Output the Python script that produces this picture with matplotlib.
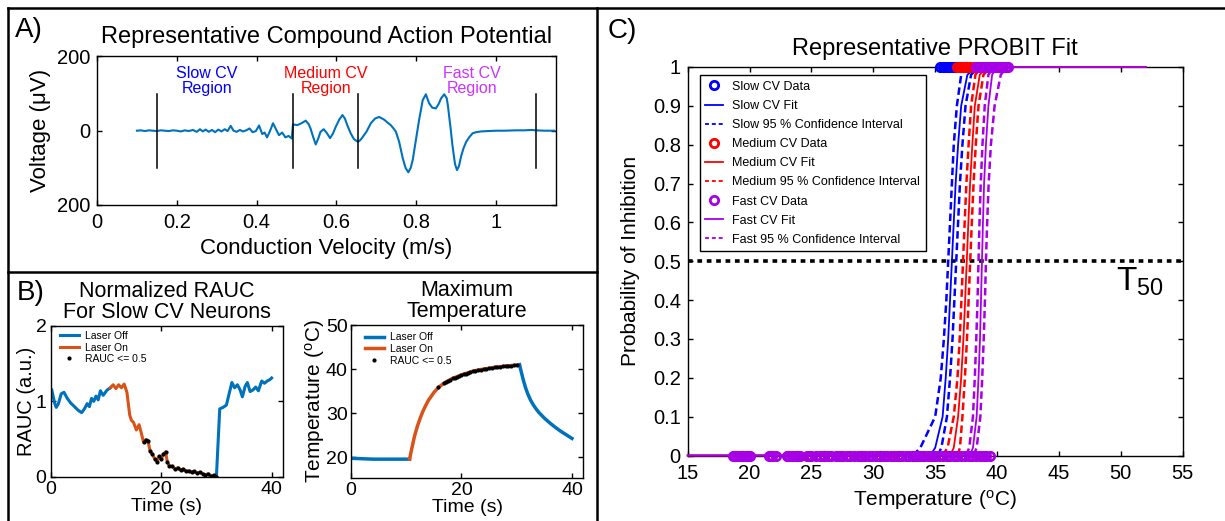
import matplotlib
matplotlib.use('Agg')
import matplotlib.pyplot as plt
from matplotlib.lines import Line2D

plt.rcParams['font.family'] = 'Liberation Sans'
plt.rcParams['mathtext.fontset'] = 'custom'
plt.rcParams['mathtext.rm'] = 'Liberation Sans'
plt.rcParams['mathtext.it'] = 'Liberation Sans:italic'
plt.rcParams['mathtext.default'] = 'regular'

MBLUE = '#0072BD'
MORANGE = '#D95319'
PURPLE = '#A800E6'

# ---- A) compound action potential
cv_x = [0.100, 0.110, 0.120, 0.130, 0.140, 0.150, 0.160, 0.170, 0.180, 0.190,
        0.200, 0.210, 0.220, 0.230, 0.240, 0.250, 0.258, 0.265, 0.272, 0.280,
        0.288, 0.296, 0.304, 0.312, 0.320, 0.327, 0.335, 0.342, 0.350, 0.358,
        0.366, 0.374, 0.382, 0.390, 0.398, 0.406, 0.414, 0.420, 0.426, 0.433,
        0.441, 0.448, 0.456, 0.464, 0.472, 0.480, 0.488, 0.491, 0.502, 0.512,
        0.523, 0.530, 0.535, 0.541, 0.548, 0.554, 0.560, 0.568, 0.575, 0.584,
        0.591, 0.598, 0.607, 0.615, 0.621, 0.627, 0.636, 0.644, 0.654, 0.660,
        0.665, 0.675, 0.686, 0.697, 0.707, 0.719, 0.728, 0.736, 0.743, 0.749,
        0.757, 0.766, 0.773, 0.780, 0.786, 0.791, 0.799, 0.807, 0.816, 0.824,
        0.832, 0.840, 0.849, 0.856, 0.862, 0.870, 0.876, 0.879, 0.885, 0.891,
        0.897, 0.902, 0.907, 0.912, 0.918, 0.925, 0.933, 0.941, 0.950, 0.962,
        0.980, 1.000, 1.020, 1.050, 1.070, 1.088, 1.100, 1.120, 1.146]
cv_v = [0, 1, -1, 1, 0, -1, 1, 0, -1, 1,
        0, -2, 1, -1, 2, -3, 4, -2, 3, -3,
        2, -4, 3, -2, 4, -1, 13, 0, -3, 2,
        -2, 1, 6, -4, -1, 14, -9, -5, -18, -2,
        20, 5, -12, -5, -18, -14, -21, 17, 15, 20,
        27, 18, 6, -15, -37, -22, -3, 4, -5, -20,
        -8, 10, 30, 42, 33, 15, -8, -23, -30, -25,
        -18, -3, 20, 33, 37, 30, 22, 15, 6, -3,
        -30, -74, -100, -112, -100, -79, -25, 29, 82, 98,
        74, 62, 60, 72, 87, 98, 88, 69, 15, -43,
        -90, -106, -95, -70, -48, -30, -17, -7, -4, -2,
        -1, 0, 0, 1, 1, 2, 1, 0, 0]
region_bounds = [0.15, 0.49, 0.655, 1.1]
region_names = ['Slow CV\nRegion', 'Medium CV\nRegion', 'Fast CV\nRegion']
region_text_x = [0.276, 0.574, 0.939]
region_colors = ['#0000FF', '#FF0000', '#CC33FF']

# ---- B) normalized RAUC
rauc_pre_t = [0.2, 0.7, 1.0, 1.4, 1.9, 2.4, 3.0, 3.6, 4.3, 5.0, 5.6, 6.1, 6.6,
              7.0, 7.4, 7.8, 8.2, 8.6, 9.0, 9.5, 10.2, 10.8]
rauc_pre = [1.15, 0.98, 0.92, 0.97, 1.10, 1.12, 1.04, 0.98, 0.93, 0.88, 0.85,
            0.90, 0.97, 0.93, 1.04, 1.00, 1.07, 1.02, 1.14, 1.08, 1.15, 1.18]
rauc_on_t = [10.8, 11.3, 11.8, 12.3, 12.8, 13.3, 13.8, 14.3, 14.6, 15.0, 15.5,
             16.0, 16.4, 16.8, 17.2, 17.6, 18.0, 18.4, 18.8, 19.2, 19.6, 20.0,
             20.4, 20.8, 21.1, 21.5, 22.0, 22.5, 23.0, 23.5, 24.0, 24.5, 25.0,
             25.5, 26.0, 26.5, 27.0, 27.5, 28.0, 28.5, 29.0, 29.5, 30.0]
rauc_on = [1.18, 1.22, 1.17, 1.22, 1.18, 1.23, 1.12, 0.82, 0.75, 0.72, 0.62,
           0.69, 0.58, 0.46, 0.49, 0.48, 0.34, 0.30, 0.24, 0.20, 0.27, 0.23,
           0.30, 0.33, 0.20, 0.14, 0.14, 0.10, 0.12, 0.09, 0.10, 0.07, 0.08,
           0.06, 0.07, 0.05, 0.06, 0.04, 0.02, 0.04, 0.01, 0.02, 0.00]
rauc_post_t = [30.0, 30.6, 31.2, 31.8, 32.3, 32.8, 33.3, 33.8, 34.3, 34.7, 35.2,
               35.6, 36.1, 36.6, 37.1, 37.6, 38.2, 38.7, 39.2, 39.7, 40.0]
rauc_post = [0.00, 0.90, 0.92, 0.95, 1.10, 1.25, 1.18, 1.22, 1.15, 1.06, 1.20,
             1.25, 1.13, 1.15, 1.19, 1.14, 1.27, 1.24, 1.27, 1.29, 1.31]
rauc_limit = 0.5

# ---- B) maximum temperature
temp_pre_t = [0, 2, 4, 6, 8, 10, 10.6]
temp_pre = [19.8, 19.7, 19.6, 19.6, 19.6, 19.6, 19.6]
temp_on_t = [10.6, 11.0, 11.5, 12.0, 12.5, 13.0, 13.5, 14.0, 14.5, 15.0, 15.5,
             16.0, 16.8, 17.6, 18.4, 19.2, 20.0, 21.0, 22.0, 23.0, 24.0, 25.0,
             26.0, 27.0, 28.0, 29.0, 30.0, 30.5]
temp_on = [19.6, 22.0, 24.8, 27.0, 28.8, 30.4, 31.7, 32.9, 33.8, 34.7, 35.4,
           36.0, 36.8, 37.4, 37.9, 38.3, 38.7, 39.1, 39.5, 39.8, 40.0, 40.2,
           40.4, 40.55, 40.7, 40.8, 40.9, 41.0]
temp_post_t = [30.5, 30.8, 31.2, 31.6, 32.0, 32.5, 33.0, 33.5, 34.0, 35.0, 36.0,
               37.0, 38.0, 39.0, 40.0]
temp_post = [41.0, 39.5, 37.5, 35.8, 34.4, 33.0, 31.9, 31.0, 30.2, 28.9, 27.8,
             26.8, 25.9, 25.1, 24.3]
temp_dot_t = [15.8, 16.8, 17.2, 17.6, 18.0, 18.4, 18.8, 19.2, 19.6, 20.0, 20.4,
              20.8, 21.1, 21.5, 22.0, 22.5, 23.0, 23.5, 24.0, 24.5, 25.0, 25.5,
              26.0, 26.5, 27.0, 27.5, 28.0, 28.5, 29.0, 29.5, 30.0]
temp_dot = [35.9, 36.8, 37.1, 37.4, 37.6, 37.9, 38.1, 38.3, 38.5, 38.7, 38.9,
            39.0, 39.1, 39.3, 39.5, 39.6, 39.8, 39.9, 40.0, 40.1, 40.2, 40.3,
            40.4, 40.5, 40.55, 40.6, 40.7, 40.75, 40.8, 40.85, 40.9]

# ---- C) probit fits, temperatures read at these probability levels
probit_levels = [0, 0.02, 0.1, 0.2, 0.3, 0.4, 0.5, 0.6, 0.7, 0.8, 0.9, 0.98, 1]
fit_range = [15, 52]
slow_fit = [34.6, 35.0, 35.6, 35.85, 36.05, 36.2, 36.35, 36.5, 36.65, 36.85, 37.1, 37.6, 38.3]
slow_lo = [33.2, 33.8, 35.0, 35.45, 35.7, 35.9, 36.05, 36.2, 36.35, 36.5, 36.75, 37.1, 37.6]
slow_hi = [35.2, 35.5, 35.95, 36.2, 36.4, 36.55, 36.7, 36.85, 37.0, 37.2, 37.45, 37.9, 38.5]
med_fit = [36.2, 36.5, 36.85, 37.1, 37.28, 37.42, 37.55, 37.68, 37.82, 38.0, 38.2, 38.6, 39.2]
med_lo = [35.6, 36.0, 36.5, 36.8, 36.98, 37.12, 37.25, 37.38, 37.52, 37.7, 37.9, 38.25, 38.7]
med_hi = [36.8, 37.0, 37.2, 37.4, 37.57, 37.7, 37.83, 37.96, 38.1, 38.28, 38.5, 38.9, 39.5]
fast_fit = [37.8, 38.05, 38.35, 38.5, 38.62, 38.7, 38.78, 38.86, 38.95, 39.1, 39.3, 39.6, 40.0]
fast_lo = [37.5, 37.75, 38.05, 38.2, 38.32, 38.42, 38.5, 38.58, 38.68, 38.82, 39.0, 39.3, 39.7]
fast_hi = [38.1, 38.35, 38.65, 38.8, 38.92, 39.02, 39.1, 39.2, 39.32, 39.5, 39.8, 40.3, 40.8]

slow_zero = [18.8, 19.4, 19.9, 21.7, 23.1, 23.8, 24.8, 26.0, 27.5, 29.0, 30.5, 32.0, 33.2, 34.0, 34.8]
slow_one = [35.4, 35.6, 35.8, 36.0, 36.2, 36.4, 36.6, 37.0]
med_zero = [18.8, 19.4, 19.9, 21.7, 23.1, 23.8, 24.8, 26.0, 27.5, 29.0, 30.5, 32.0, 33.5, 35.0, 36.0]
med_one = [36.8, 37.0, 37.2, 37.4, 37.6, 37.8, 38.1]
fast_zero = [18.7, 18.9, 19.1, 19.3, 19.5, 19.7, 19.8, 20.0, 21.6, 21.85, 22.1,
             23.0, 23.2, 23.4, 23.65, 23.9, 24.1, 24.6, 25.0, 25.4, 25.7, 26.05,
             26.3, 26.6, 26.95, 27.2, 27.5, 27.85, 28.1, 28.4, 28.75, 29.0, 29.3,
             29.65, 29.9, 30.2, 30.5, 30.85, 31.1, 31.4, 31.7, 32.05, 32.3, 32.6,
             32.9, 33.25, 33.5, 33.8, 34.1, 34.45, 34.7, 35.0, 35.3, 35.6, 35.95,
             36.2, 36.5, 36.8, 37.1, 37.4, 37.7, 38.0, 38.3, 38.6, 38.9, 39.1, 39.4]
fast_one = [38.3, 38.5, 38.7, 38.9, 39.1, 39.3, 39.5, 39.7, 39.9, 40.1, 40.3, 40.5, 40.7, 40.9]
t50_level = 0.5


def matlab_box(ax, size=14.5, xpad=6, ypad=5):
    for s in ax.spines.values():
        s.set_linewidth(1.0)
    ax.tick_params(direction='in', top=True, right=True, length=3.5, width=1,
                   labelsize=size)
    ax.tick_params(axis='x', pad=xpad)
    ax.tick_params(axis='y', pad=ypad)


fig = plt.figure(figsize=(12.25, 5.21), dpi=100)

# ---------------- panel A
axA = fig.add_axes([97/1225, 1-205/521, 459/1225, 148.6/521])
axA.plot(cv_x, cv_v, color=MBLUE, lw=1.5)
for b in region_bounds:
    axA.plot([b, b], [-100, 100], color='k', lw=1.1)
for name, tx, c in zip(region_names, region_text_x, region_colors):
    axA.text(tx, 135, name, color=c, ha='center', va='center', fontsize=11.5,
             linespacing=1.0)
axA.set_xlim(0, 1.15)
axA.set_ylim(-200, 200)
axA.set_xticks([0, 0.2, 0.4, 0.6, 0.8, 1])
axA.set_xticklabels(['0', '0.2', '0.4', '0.6', '0.8', '1'])
axA.set_yticks([-200, 0, 200])
axA.set_yticklabels(['200', '0', '200'])
matlab_box(axA)
axA.set_xlabel('Conduction Velocity (m/s)', fontsize=16)
axA.set_ylabel('Voltage (μV)', fontsize=16)
axA.set_title('Representative Compound Action Potential', fontsize=17, pad=10)

# ---------------- panel B left
axB1 = fig.add_axes([50.7/1225, 1-476.7/521, 232/1225, 150.7/521])
axB1.plot(rauc_pre_t, rauc_pre, color=MBLUE, lw=2.2, label='Laser Off')
axB1.plot(rauc_on_t, rauc_on, color=MORANGE, lw=2.2, label='Laser On')
axB1.plot(rauc_post_t, rauc_post, color=MBLUE, lw=2.2)
dot_t = [t for t, r in zip(rauc_on_t + rauc_post_t, rauc_on + rauc_post)
         if r <= rauc_limit and t > 16.5]
dot_r = [r for t, r in zip(rauc_on_t + rauc_post_t, rauc_on + rauc_post)
         if r <= rauc_limit and t > 16.5]
axB1.plot(dot_t, dot_r, 'k.', ms=4, ls='none', label='RAUC <= 0.5')
axB1.set_xlim(0, 42)
axB1.set_ylim(0, 2)
axB1.set_xticks([0, 20, 40])
axB1.set_yticks([0, 1, 2])
matlab_box(axB1, size=14, xpad=3, ypad=3)
axB1.set_xlabel('Time (s)', fontsize=14, labelpad=0)
axB1.set_ylabel('RAUC (a.u.)', fontsize=14.5, labelpad=0)
axB1.set_title('Normalized RAUC\nFor Slow CV Neurons', fontsize=15.5, pad=6,
               linespacing=0.95)
axB1.legend(loc='upper left', bbox_to_anchor=(0.04, 0.967), frameon=False,
            fontsize=7.5, handlelength=1.8, handletextpad=0.6, labelspacing=0.15,
            borderpad=0, borderaxespad=0)

# ---------------- panel B right
axB2 = fig.add_axes([351/1225, 1-477.7/521, 232/1225, 152.7/521])
axB2.plot(temp_pre_t, temp_pre, color=MBLUE, lw=2.5, label='Laser Off')
axB2.plot(temp_on_t, temp_on, color=MORANGE, lw=2.5, label='Laser On')
axB2.plot(temp_post_t, temp_post, color=MBLUE, lw=2.5)
axB2.plot(temp_dot_t, temp_dot, 'k.', ms=4, ls='none', label='RAUC <= 0.5')
axB2.set_xlim(0, 42)
axB2.set_ylim(15.4, 50)
axB2.set_xticks([0, 20, 40])
axB2.set_yticks([20, 30, 40, 50])
matlab_box(axB2, size=14, xpad=3, ypad=2.5)
axB2.set_xlabel('Time (s)', fontsize=14, labelpad=0)
axB2.set_ylabel('Temperature ($^{o}$C)', fontsize=15, labelpad=-1)
axB2.set_title('Maximum\nTemperature', fontsize=15.5, pad=6, linespacing=0.95)
axB2.legend(loc='upper left', bbox_to_anchor=(0.06, 0.951), frameon=False,
            fontsize=7.5, handlelength=1.8, handletextpad=0.6, labelspacing=0.15,
            borderpad=0, borderaxespad=0)

# ---------------- panel C
axC = fig.add_axes([687.7/1225, 1-455.5/521, 495/1225, 388.5/521])
groups = [('Slow', '#0000FF', slow_zero, slow_one, slow_fit, slow_lo, slow_hi),
          ('Medium', '#FF0000', med_zero, med_one, med_fit, med_lo, med_hi),
          ('Fast', PURPLE, fast_zero, fast_one, fast_fit, fast_lo, fast_hi)]
handles = []
for name, c, zero_t, one_t, fit_t, lo_t, hi_t in groups:
    axC.plot(zero_t, [0]*len(zero_t), 'o', mfc='none', mec=c, ms=6, mew=2,
             clip_on=False, zorder=3)
    axC.plot(one_t, [1]*len(one_t), 'o', mfc='none', mec=c, ms=6, mew=2,
             clip_on=False, zorder=3)
    axC.plot([fit_range[0]] + fit_t + [fit_range[1]],
             [0] + probit_levels + [1], color=c, lw=1.3, clip_on=False, zorder=3)
    for ci in (lo_t, hi_t):
        axC.plot(ci, probit_levels, color=c, lw=1.8, ls=(0, (3, 1.6)), zorder=3)
    handles += [Line2D([], [], color=c, marker='o', ls='none', mfc='none', ms=6, mew=2),
                Line2D([], [], color=c, lw=1.3),
                Line2D([], [], color=c, lw=1.3, ls=(0, (2.2, 1.6)))]
labels = []
for name in ['Slow', 'Medium', 'Fast']:
    labels += [name + ' CV Data', name + ' CV Fit', name + ' 95 % Confidence Interval']
axC.axhline(t50_level, color='k', lw=2.6, ls=(0, (1.3, 1.3)), zorder=2)
axC.text(49.6, 0.424, r'$\mathrm{T}_{50}$', fontsize=24, va='baseline')
axC.set_xlim(15, 55)
axC.set_ylim(0, 1)
axC.set_xticks(range(15, 56, 5))
axC.set_yticks([0, 0.1, 0.2, 0.3, 0.4, 0.5, 0.6, 0.7, 0.8, 0.9, 1])
axC.set_yticklabels(['0', '0.1', '0.2', '0.3', '0.4', '0.5', '0.6', '0.7', '0.8', '0.9', '1'])
matlab_box(axC)
axC.set_xlabel('Temperature ($^{o}$C)', fontsize=15, labelpad=4)
axC.set_ylabel('Probability of Inhibition', fontsize=15, labelpad=9)
axC.set_title('Representative PROBIT Fit', fontsize=17, pad=9)
leg = axC.legend(handles, labels, loc='upper left', bbox_to_anchor=(0.024, 0.979),
                 fontsize=9, handlelength=1.4, handletextpad=0.75, labelspacing=0.57,
                 borderpad=0.45, borderaxespad=0, fancybox=False, framealpha=1,
                 edgecolor='k')
leg.get_frame().set_linewidth(1.0)

# ---------------- panel letters and frame lines
fig.text(15/1225, 1-37/521, 'A)', fontsize=20, va='baseline')
fig.text(17/1225, 1-300/521, 'B)', fontsize=20, va='baseline')
fig.text(608/1225, 1-38/521, 'C)', fontsize=20, va='baseline')
frame = dict(color='k', lw=1.8, transform=fig.transFigure)
fig.add_artist(Line2D([8/1225, 1], [1-8/521, 1-8/521], **frame))
fig.add_artist(Line2D([8/1225, 8/1225], [0, 1-8/521], **frame))
fig.add_artist(Line2D([597/1225, 597/1225], [0, 1-8/521], **frame))
fig.add_artist(Line2D([8/1225, 597/1225], [1-272/521, 1-272/521], **frame))

fig.savefig('out.png', dpi=100)
